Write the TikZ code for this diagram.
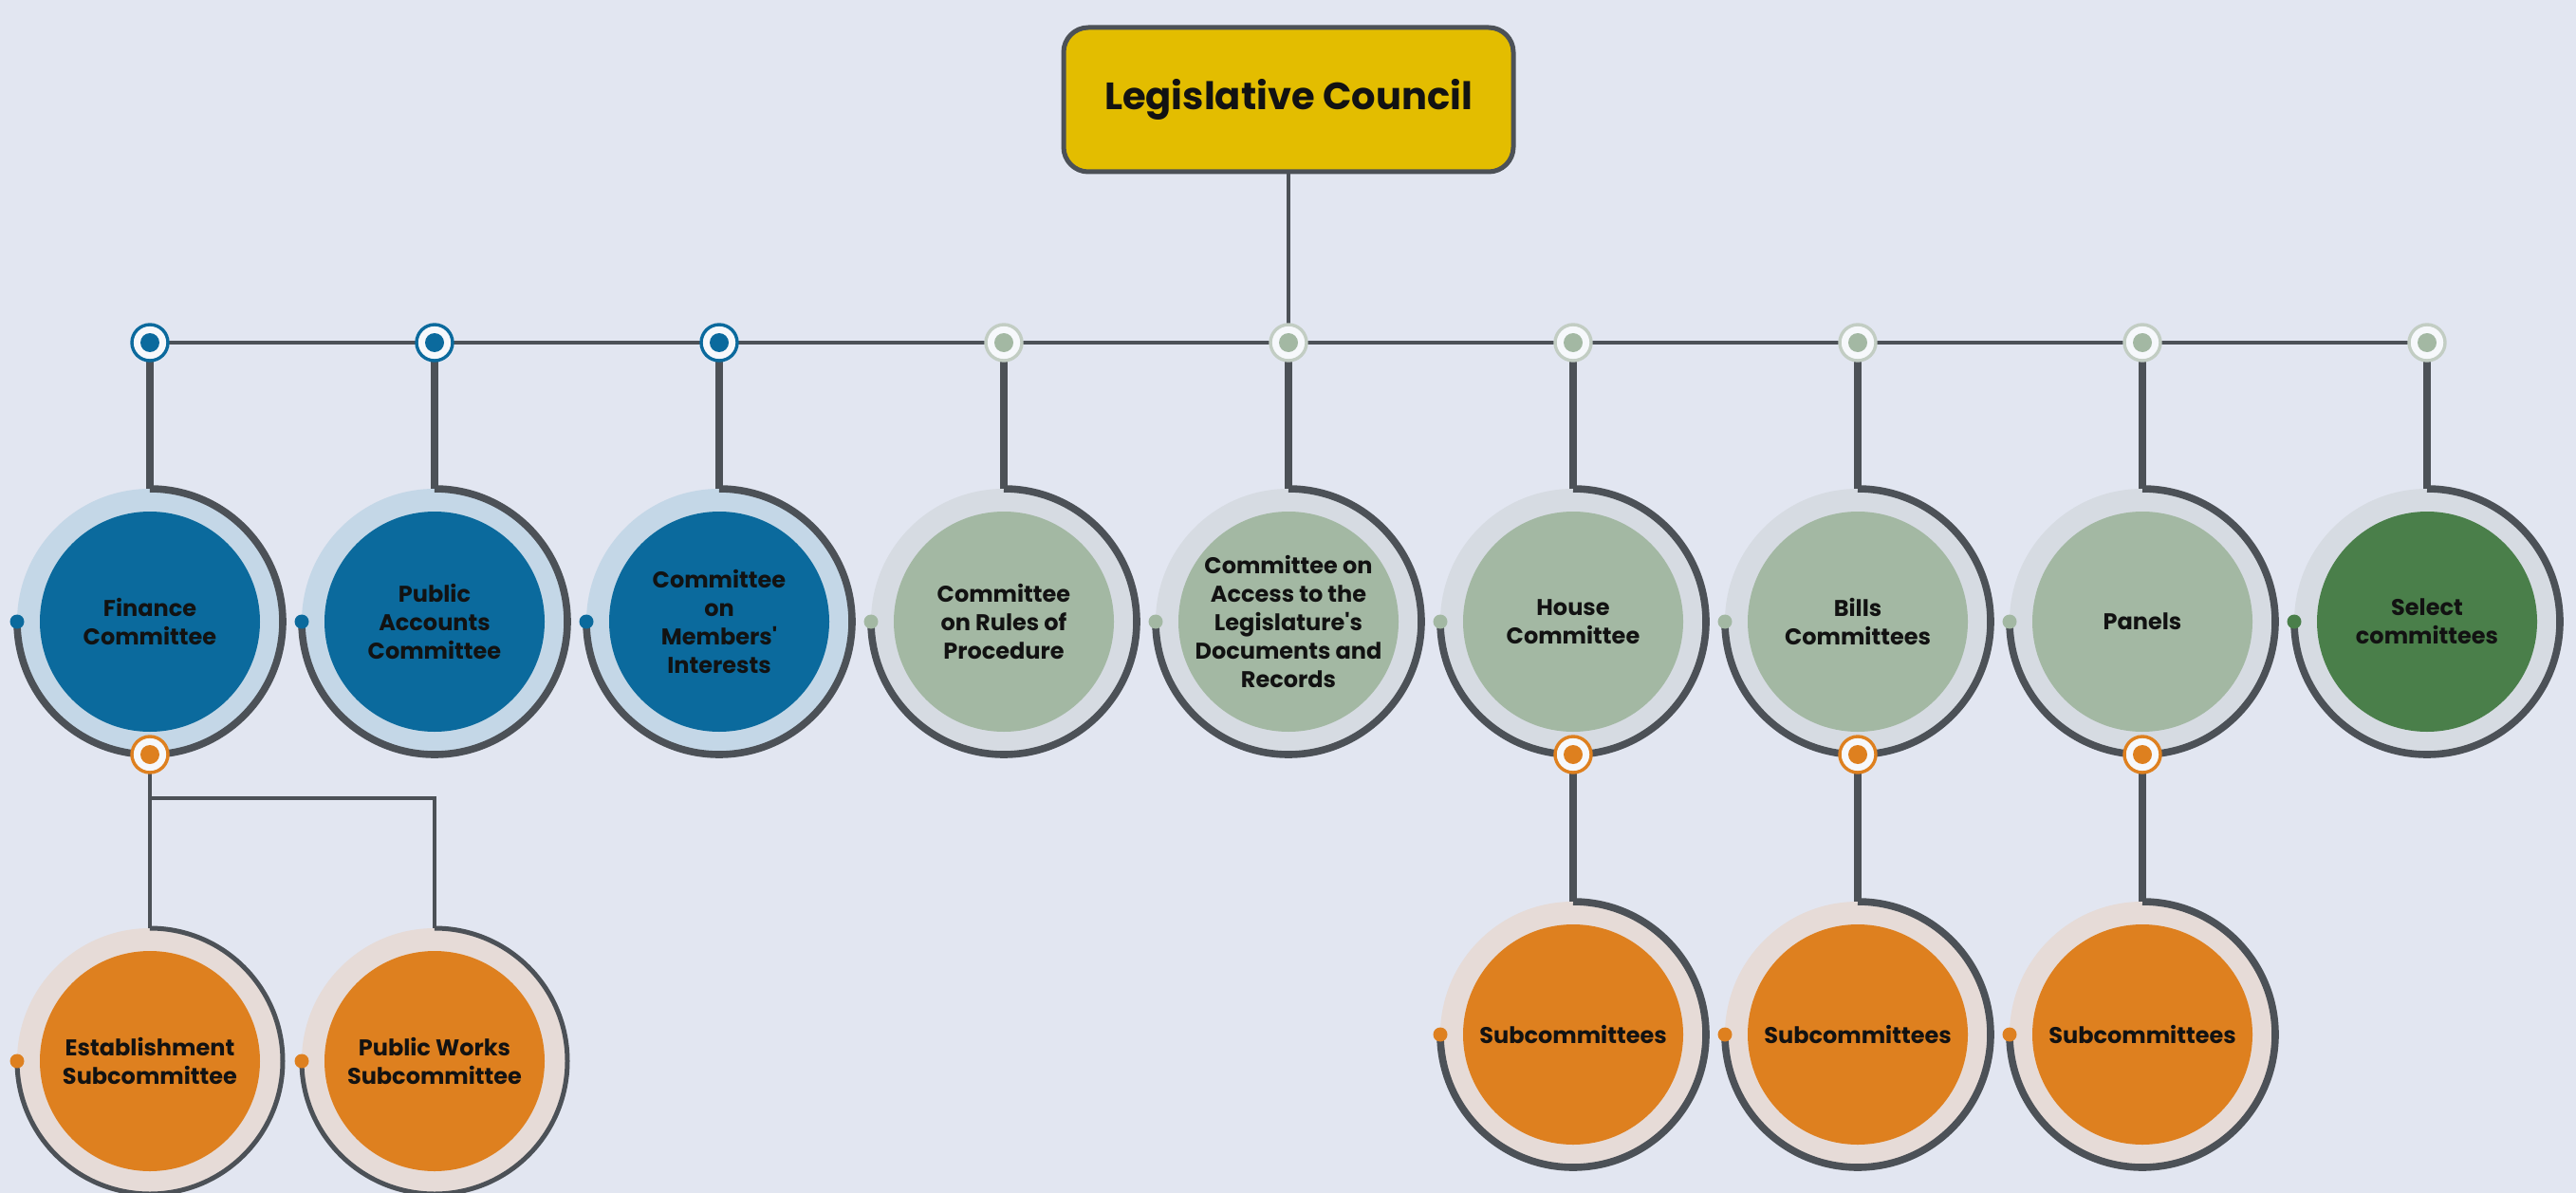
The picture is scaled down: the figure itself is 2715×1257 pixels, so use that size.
\documentclass[tikz,border=0pt]{standalone}
\usepackage{fontspec}
\setmainfont{Poppins}
\usetikzlibrary{backgrounds}

\definecolor{bgc}{HTML}{E2E6F1}
\definecolor{edge}{HTML}{4C5157}
\definecolor{gold}{HTML}{E3BD00}
\definecolor{blu}{HTML}{0B6A9D}
\definecolor{bluhalo}{HTML}{C4D7E7}
\definecolor{sage}{HTML}{A3B8A3}
\definecolor{sagering}{HTML}{C2CDC3}
\definecolor{sagehalo}{HTML}{D6DBE2}
\definecolor{selgreen}{HTML}{4A7F4A}
\definecolor{orng}{HTML}{DE801F}
\definecolor{ornghalo}{HTML}{E6DBD7}

\tikzset{
  council/.style={draw=edge, line width=2.5pt, fill=gold, rounded corners=13pt,
    minimum width=237pt, minimum height=76pt, inner sep=0pt,
    text=black!93, font=\fontsize{20}{24}\selectfont\bfseries},
  comm/.style={circle, minimum size=140pt, inner sep=0pt, outer sep=0pt, align=center,
    text=black!93, font=\fontsize{12}{15.1}\selectfont\bfseries,
    path picture={\fill[#1] (path picture bounding box.center) circle (58pt);}},
  hub/.style 2 args={circle, minimum size=19pt, inner sep=0pt, outer sep=0pt,
    draw=#1, line width=1.7pt, fill=white!70!bgc,
    path picture={\fill[#2] (path picture bounding box.center) circle (5pt);}},
  ring/.style={draw=edge, line width=3.8pt},
  thinring/.style={draw=edge, line width=2.5pt},
  stem/.style={draw=edge, line width=3.8pt, line cap=rect},
  bus/.style={draw=edge, line width=2.3pt, line cap=rect},
}

\begin{document}
\begin{tikzpicture}[x=0.5pt, y=0.5pt]
  \def\ybus{-361}  % ligne des jonctions
  \def\yrow{-655}  % ligne des comites
  \def\rr{140}     % rayon de l'anneau

  \useasboundingbox (0,0) rectangle (2715,-1257);
  \begin{scope}[on background layer]
    \fill[bgc] (0,0) rectangle (2715,-1257);
  \end{scope}

  % Council
  \node[council] (lc) at (1358,-105) {Legislative Council};

  % Committees, first row
  \foreach \i/\x/\fc/\hc/\txt in {
      1/158/blu/bluhalo/{Finance\\Committee},
      2/458/blu/bluhalo/{Public\\Accounts\\Committee},
      3/758/blu/bluhalo/{Committee\\on\\Members\textquotesingle\\Interests},
      4/1058/sage/sagehalo/{Committee\\on Rules of\\Procedure},
      5/1358/sage/sagehalo/{Committee on\\Access to the\\Legislature\textquotesingle s\\Documents and\\Records},
      6/1658/sage/sagehalo/{House\\Committee},
      7/1958/sage/sagehalo/{Bills\\Committees},
      8/2258/sage/sagehalo/{Panels},
      9/2558/selgreen/sagehalo/{Select\\committees}} {
    \node[comm=\fc, fill=\hc] (c\i) at (\x,\yrow) {\txt};
    \draw[ring] (c\i.north) arc[start angle=90, end angle=-180, radius=\rr];
    \fill[\fc] (c\i.west) circle (7.5);
  }

  % Junctions on the bus
  \foreach \i/\x/\rc/\dc in {1/158/blu/blu, 2/458/blu/blu, 3/758/blu/blu,
      4/1058/sagering/sage, 5/1358/sagering/sage, 6/1658/sagering/sage,
      7/1958/sagering/sage, 8/2258/sagering/sage, 9/2558/sagering/sage} {
    \node[hub={\rc}{\dc}] (j\i) at (\x,\ybus) {};
  }

  % Subcommittees
  \node[comm=orng, fill=ornghalo] (s1) at (158,-1118) {Establishment\\Subcommittee};
  \node[comm=orng, fill=ornghalo] (s2) at (458,-1118) {Public Works\\Subcommittee};
  \foreach \i in {1,2} {
    \draw[thinring] (s\i.north) arc[start angle=90, end angle=-180, radius=\rr];
    \fill[orng] (s\i.west) circle (7.5);
  }
  \foreach \i/\x in {6/1658, 7/1958, 8/2258} {
    \node[comm=orng, fill=ornghalo] (s\i) at (\x,-1090) {Subcommittees};
    \draw[ring] (s\i.north) arc[start angle=90, end angle=-180, radius=\rr];
    \fill[orng] (s\i.west) circle (7.5);
  }

  % Orange junctions under the committees
  \foreach \i in {1,6,7,8} {
    \node[hub={orng}{orng}] (o\i) at (c\i.south) {};
  }

  % Connectors
  \begin{scope}[on background layer]
    \draw[bus] (lc) -- (j5);
    \draw[bus] (j1) -- (j9);
    \foreach \i in {1,...,9} {
      \draw[stem] (j\i) -- (c\i.north);
    }
    \draw[bus] (o1) -- (s1.north);
    \draw[bus] (o1) ++(0,-46) -| (s2.north);
    \foreach \i in {6,7,8} {
      \draw[stem] (o\i) -- (s\i.north);
    }
  \end{scope}
\end{tikzpicture}
\end{document}
